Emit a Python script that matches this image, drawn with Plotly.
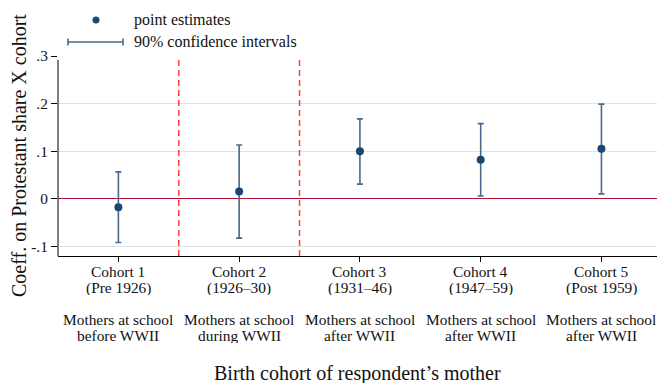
import plotly.graph_objects as go

# Cohort positions and two-part labels
cohort_pos = [1, 2, 3, 4, 5]
cohort_names = ["Cohort 1", "Cohort 2", "Cohort 3", "Cohort 4", "Cohort 5"]
cohort_years = ["(Pre 1926)", "(1926–30)", "(1931–46)", "(1947–59)", "(Post 1959)"]
school_line1 = ["Mothers at school"] * 5
school_line2 = ["before WWII", "during WWII", "after WWII", "after WWII", "after WWII"]

# Point estimates and 90% confidence bounds
estimates = [-0.0175, 0.0153, 0.100, 0.082, 0.105]
ci_upper = [0.0566, 0.113, 0.168, 0.158, 0.199]
ci_lower = [-0.0916, -0.0825, 0.031, 0.006, 0.0105]

# Y-axis ticks
y_ticks = [-0.1, 0, 0.1, 0.2, 0.3]
y_tick_labels = ["-.1", "0", ".1", ".2", ".3"]

# Boundaries separating WWII school periods
period_breaks = [1.5, 2.5]

err_plus = [u - e for u, e in zip(ci_upper, estimates)]
err_minus = [e - l for e, l in zip(estimates, ci_lower)]

NAVY = "#1a476f"
CI_COLOR = "#48698c"
TEXT = "#111111"
FONT = "Liberation Serif"
TICK_SIZE = 15.4

fig = go.Figure()
fig.add_trace(go.Scatter(
    x=cohort_pos, y=estimates, mode="markers",
    marker=dict(color=NAVY, size=8),
    error_y=dict(type="data", symmetric=False, array=err_plus, arrayminus=err_minus,
                 color=CI_COLOR, thickness=1.6, width=3),
    showlegend=False,
))

W, H = 657, 383
L, R, T, B = 58, 0, 56, 127
pw, ph = W - L - R, H - T - B


def px(x):
    return (x - L) / pw


def py(y):
    return (H - B - y) / ph


shapes = []
for b in period_breaks:
    shapes.append(dict(type="line", xref="x", yref="paper", x0=b, x1=b, y0=0, y1=py(60),
                       line=dict(color="#ff3a3a", width=1.5, dash="6px,4px")))

# Left axis line
shapes.append(dict(type="line", xref="paper", yref="paper", x0=0, x1=0, y0=0, y1=py(60),
                   line=dict(color="black", width=1)))

# Legend glyphs
shapes.append(dict(type="circle", xref="paper", yref="paper",
                   x0=px(92.5), x1=px(99.5), y0=py(16.5), y1=py(23.5),
                   fillcolor=NAVY, line=dict(color=NAVY, width=0)))
shapes.append(dict(type="line", xref="paper", yref="paper",
                   x0=px(68), x1=px(123), y0=py(42), y1=py(42),
                   line=dict(color=CI_COLOR, width=1.6)))
for xe in (68, 123):
    shapes.append(dict(type="line", xref="paper", yref="paper",
                       x0=px(xe), x1=px(xe), y0=py(38.5), y1=py(45.5),
                       line=dict(color=CI_COLOR, width=1.6)))

annotations = [
    dict(text="point estimates", xref="paper", yref="paper", x=px(132), y=py(20),
         xanchor="left", yanchor="middle", showarrow=False,
         font=dict(family=FONT, size=16, color=TEXT)),
    dict(text="90% confidence intervals", xref="paper", yref="paper", x=px(132), y=py(42),
         xanchor="left", yanchor="middle", showarrow=False,
         font=dict(family=FONT, size=16, color=TEXT)),
    dict(text="Birth cohort of respondent’s mother", xref="paper", yref="paper",
         x=0.5, y=py(373), xanchor="center", yanchor="middle", showarrow=False,
         font=dict(family=FONT, size=20, color=TEXT)),
    dict(text="Coeff. on Protestant share X cohort", xref="paper", yref="paper",
         x=px(19), y=py(156), xanchor="center", yanchor="middle", showarrow=False,
         textangle=-90, font=dict(family=FONT, size=20, color=TEXT)),
]

# Category labels under each cohort tick, one line each (tight line spacing)
for rows, ypix in ((cohort_names, 271), (cohort_years, 287), (school_line1, 319), (school_line2, 335)):
    for xpos, txt in zip(cohort_pos, rows):
        annotations.append(dict(text=txt, xref="x", yref="paper", x=xpos, y=py(ypix),
                                xanchor="center", yanchor="middle", showarrow=False,
                                height=15, valign="middle",
                                font=dict(family=FONT, size=TICK_SIZE, color=TEXT)))

fig.update_layout(
    width=W, height=H,
    margin=dict(l=L, r=R, t=T, b=B, pad=0),
    paper_bgcolor="white", plot_bgcolor="white",
    font=dict(family=FONT, size=TICK_SIZE, color=TEXT),
    shapes=shapes, annotations=annotations,
    showlegend=False,
)
fig.update_xaxes(
    range=[0.5, 5.46], tickvals=cohort_pos, showticklabels=False,
    showgrid=False, zeroline=False, showline=True, linecolor="black", linewidth=1,
    ticks="outside", ticklen=5, tickcolor="black",
)
fig.update_yaxes(
    range=[-0.12, 0.3], tickvals=y_ticks, ticktext=y_tick_labels,
    showgrid=True, gridcolor="#e2e2e2", gridwidth=1.3,
    zeroline=True, zerolinecolor="#b5123a", zerolinewidth=1.2,
    showline=False,
    ticks="outside", ticklen=6, tickcolor="black",
    tickfont=dict(family=FONT, size=TICK_SIZE, color=TEXT),
)

fig.write_html("out.html")
